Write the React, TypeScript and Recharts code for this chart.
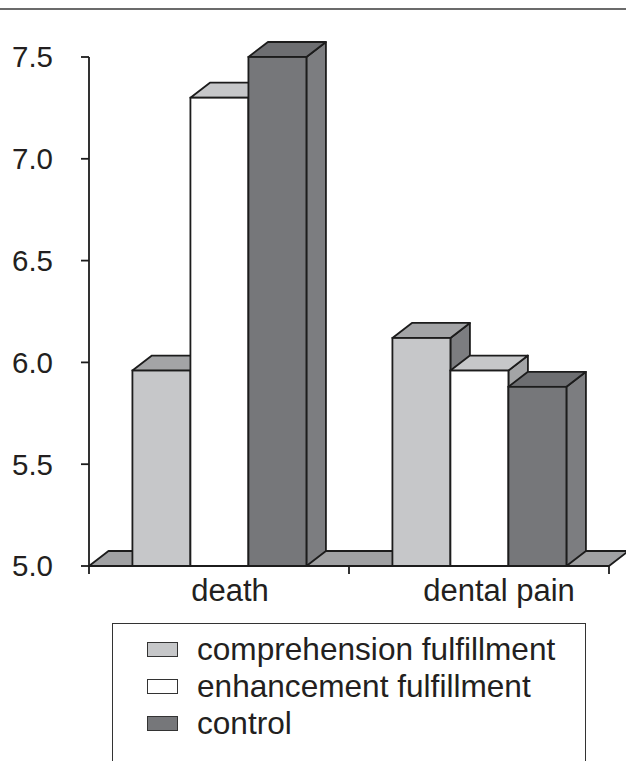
import React from "react";
import { BarChart, Bar, XAxis, YAxis, ReferenceLine, Legend } from "recharts";

// Mean scores per condition
const categories = ["death", "dental pain"];
const comprehensionFulfillment = [5.96, 6.12];
const enhancementFulfillment = [7.3, 5.96];
const control = [7.5, 5.88];
const yTicks = [5.0, 5.5, 6.0, 6.5, 7.0, 7.5];

const seriesNames = ["comprehension fulfillment", "enhancement fulfillment", "control"];
const seriesKeys = ["comprehension", "enhancement", "control"];

const data = categories.map((c, i) => ({
  category: c,
  comprehension: comprehensionFulfillment[i],
  enhancement: enhancementFulfillment[i],
  control: control[i],
}));

const FONT = "'Liberation Sans', Arial, Helvetica, sans-serif";
const INK = "#231f20";
const EDGE = "#1c1c1c";
const DX = 19.5;
const DY = 15;
const W = 626;
const H = 761;
const MARGIN = { top: 57, right: 17, bottom: 155, left: 0 };

type Faces = { front: string; top: string; side: string };
const COMP: Faces = { front: "#c6c7c9", top: "#a3a4a6", side: "#7c7d80" };
const ENH: Faces = { front: "#ffffff", top: "#c6c7c9", side: "#a3a4a6" };
const CTRL: Faces = { front: "#76777a", top: "#6d6e71", side: "#7c7d80" };
const FLOOR = "#a0a1a3";
const seriesFaces = [COMP, ENH, CTRL];

const make3D = (faces: Faces) => (props: any) => {
  const { x, y, width, height } = props;
  if (width == null || height == null) return null;
  const r = x + width;
  const b = y + height;
  const sw = 1.8;
  return (
    <g>
      <polygon
        points={`${r},${y} ${r + DX},${y - DY} ${r + DX},${b - DY} ${r},${b}`}
        fill={faces.side}
        stroke={EDGE}
        strokeWidth={sw}
        strokeLinejoin="round"
      />
      <polygon
        points={`${x},${y} ${x + DX},${y - DY} ${r + DX},${y - DY} ${r},${y}`}
        fill={faces.top}
        stroke={EDGE}
        strokeWidth={sw}
        strokeLinejoin="round"
      />
      <rect x={x} y={y} width={width} height={height} fill={faces.front} stroke={EDGE} strokeWidth={sw} />
    </g>
  );
};

// Grey floor slab under the bars, spanning the full category axis
const Floor = (props: any) => {
  const { x1, y1, x2 } = props;
  if (x1 == null) return null;
  return (
    <polygon
      points={`${x1},${y1} ${x1 + DX},${y1 - DY} ${x2 + DX},${y1 - DY} ${x2},${y1}`}
      fill={FLOOR}
      stroke={EDGE}
      strokeWidth={1.8}
      strokeLinejoin="round"
    />
  );
};

const labelShift = [11, 20];

const CategoryTick = (props: any) => {
  const { x, y, payload, index, visibleTicksCount } = props;
  const half = payload && payload.offset != null ? payload.offset : 0;
  const last = (visibleTicksCount ?? categories.length) - 1;
  const axisY = y - 8;
  return (
    <g>
      <line x1={x - half} x2={x - half} y1={axisY} y2={axisY + 8} stroke={EDGE} strokeWidth={1.8} />
      {index === last && (
        <line x1={x + half} x2={x + half} y1={axisY} y2={axisY + 8} stroke={EDGE} strokeWidth={1.8} />
      )}
      <text
        x={x + (labelShift[index] ?? 0)}
        y={axisY + 35}
        textAnchor="middle"
        fontFamily={FONT}
        fontSize={31}
        fill={INK}
      >
        {payload.value}
      </text>
    </g>
  );
};

const LegendBox = () => (
  <div
    style={{
      position: "relative",
      width: 474,
      height: 138,
      borderTop: "1.5px solid #333",
      borderLeft: "1.5px solid #333",
      borderRight: "1.5px solid #333",
      boxSizing: "border-box",
      fontFamily: FONT,
      fontSize: 31.6,
      color: INK,
    }}
  >
    {seriesNames.map((name, i) => (
      <div
        key={name}
        style={{ position: "absolute", left: 34, top: 7 + i * 37, height: 37, display: "flex", alignItems: "center", whiteSpace: "nowrap" }}
      >
        <span
          style={{
            display: "inline-block",
            width: 31,
            height: 15,
            boxSizing: "border-box",
            background: seriesFaces[i].front,
            border: "1.5px solid #333",
            marginRight: 19,
          }}
        />
        <span style={{ lineHeight: "37px" }}>{name}</span>
      </div>
    ))}
  </div>
);

const layer: React.CSSProperties = { position: "absolute", left: 0, top: 0 };
const noShape = () => null;

export default function App() {
  return (
    <div style={{ position: "absolute", left: 0, top: 0, width: W, height: H, background: "#fff", overflow: "hidden" }}>
      <div style={{ position: "absolute", left: 0, top: 7.5, width: W, height: 2.5, background: "#6b6b6b" }} />

      {/* Back layer: floor slab only (series present so the scales match the front layer) */}
      <div style={layer}>
        <BarChart width={W} height={H} data={data} margin={MARGIN} barCategoryGap="16.7%" barGap={0}>
          <XAxis dataKey="category" height={40} tick={false} tickLine={false} axisLine={false} />
          <YAxis width={89} domain={[5, 7.5]} ticks={yTicks} tick={false} tickLine={false} axisLine={false} />
          {seriesKeys.map((k) => (
            <Bar key={k} dataKey={k} shape={noShape} legendType="none" isAnimationActive={false} />
          ))}
          <ReferenceLine y={5} shape={<Floor />} />
        </BarChart>
      </div>

      {/* Front layer: axes, 3D bars and legend */}
      <div style={layer}>
        <BarChart width={W} height={H} data={data} margin={MARGIN} barCategoryGap="16.7%" barGap={0}>
          <XAxis
            dataKey="category"
            height={40}
            tickLine={false}
            tickSize={8}
            tickMargin={0}
            axisLine={{ stroke: EDGE, strokeWidth: 1.8 }}
            tick={<CategoryTick />}
            interval={0}
          />
          <YAxis
            width={89}
            domain={[5, 7.5]}
            ticks={yTicks}
            interval={0}
            tickFormatter={(v: number) => v.toFixed(1)}
            tickSize={8}
            tickMargin={28}
            tick={{ fontFamily: FONT, fontSize: 29.5, fill: INK }}
            axisLine={{ stroke: EDGE, strokeWidth: 1.8 }}
            tickLine={{ stroke: EDGE, strokeWidth: 1.8 }}
          />
          {seriesKeys.map((k, i) => (
            <Bar
              key={k}
              dataKey={k}
              name={seriesNames[i]}
              fill={seriesFaces[i].front}
              shape={make3D(seriesFaces[i])}
              isAnimationActive={false}
            />
          ))}
          <Legend
            layout="vertical"
            align="center"
            verticalAlign="middle"
            content={() => <LegendBox />}
            wrapperStyle={{ position: "absolute", left: 112, top: 623, width: 474, height: 138 }}
          />
        </BarChart>
      </div>
    </div>
  );
}
